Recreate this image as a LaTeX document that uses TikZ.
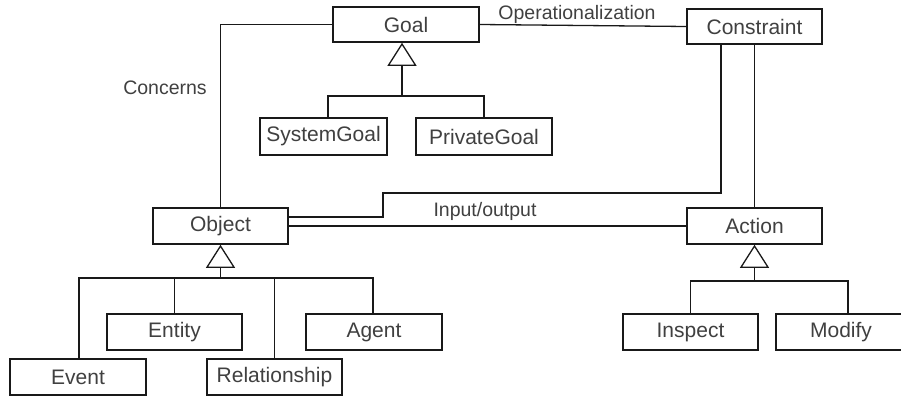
\documentclass[tikz,border=0pt]{standalone}
\usepackage{fontspec}
\setmainfont{Liberation Sans}
\usetikzlibrary{arrows.meta,calc}
\begin{document}
\begin{tikzpicture}[x=1pt,y=-1pt,
  cls/.style={draw=black!90,line width=1.6pt,fill=white,minimum width=135pt,minimum height=36pt,inner sep=0pt,font=\fontsize{21}{23}\selectfont,text=black!75},
  lnk/.style={draw=black!90,line width=1.3pt},
  gen/.style={lnk,-{Triangle[open,length=23pt,width=29pt,line width=1.3pt]}},
  lbl/.style={font=\fontsize{19.5}{22}\selectfont,text=black!75,inner sep=0pt}]
\useasboundingbox (0,0) rectangle (901,396);
% classes
\node[cls,minimum width=146pt,minimum height=35pt] (Goal) at (406,24.5) {Goal};
\node[cls,minimum height=35pt] (Constraint) at (754.5,26.5) {Constraint};
\node[cls,minimum width=127pt,minimum height=37pt] (SystemGoal) at (323.5,136.5) {SystemGoal};
\node[cls,minimum width=136pt,minimum height=37pt] (PrivateGoal) at (484,136.5) {PrivateGoal};
\node[cls] (Object) at (220.5,226) {Object};
\node[cls] (Action) at (754.5,226) {Action};
\node[cls] (Entity) at (174.5,332) {Entity};
\node[cls,minimum width=136pt] (Agent) at (374,332) {Agent};
\node[cls,minimum width=136pt] (Event) at (78,377) {Event};
\node[cls] (Relationship) at (274.5,377) {Relationship};
\node[cls] (Inspect) at (690.5,332) {Inspect};
\node[cls,minimum width=130pt] (Modify) at (841,332) {Modify};
% junctions
\coordinate (gj) at (402,96);
\coordinate (oj) at (220.5,278);
\coordinate (aj) at (754.5,281);
\coordinate (cb) at (383,193);
% associations
\draw[lnk] (Goal.west) -| (Object.north);
\draw[lnk] (Goal.east) -- (Constraint.west);
\draw[lnk] ($(Constraint.south)+(-33.5,0)$) |- (cb) |- ($(Object.east)+(0,-9)$);
\draw[lnk] (Constraint.south) -- (Action.north);
\draw[lnk] (Object.east) -- (Action.west);
% generalizations
\draw[lnk] ($(SystemGoal.north)+(4.5,0)$) |- (gj) -| (PrivateGoal.north);
\draw[gen] (gj) -- (gj |- Goal.south);
\draw[lnk] ($(Event.north)+(1,0)$) |- (oj) -| ($(Agent.north)+(-1,0)$);
\draw[lnk] (Entity.north) -- (Entity.north |- oj);
\draw[lnk] (Relationship.north) -- (Relationship.north |- oj);
\draw[gen] (oj) -- (Object.south);
\draw[lnk] (Inspect.north) |- (aj) -| ($(Modify.north)+(7,0)$);
\draw[gen] (aj) -- (Action.south);
% labels
\node[lbl] (lconc) at (165,88) {Concerns};
\node[lbl] (lop) at (577,14) {Operationalization};
\node[lbl] (lio) at (485,211) {Input/output};
\end{tikzpicture}
\end{document}
